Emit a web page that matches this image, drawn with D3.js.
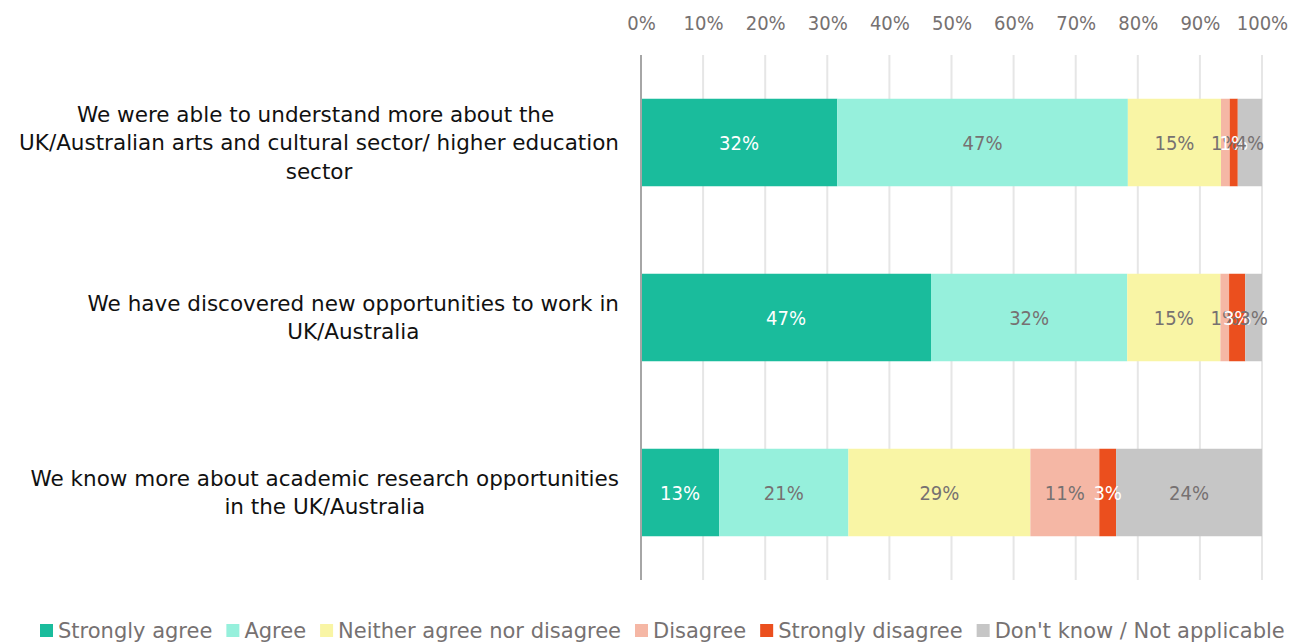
<!DOCTYPE html>
<html>
<head>
<meta charset="utf-8">
<script src="https://cdn.jsdelivr.net/npm/d3@7"></script>
<style>
  html, body { margin: 0; padding: 0; background: #fff; }
  svg { display: block; }
</style>
</head>
<body>
<svg id="chart" width="1307" height="643"></svg>
<script>
// Survey statements (one horizontal bar each)
const categories = [
  ["We were able to understand more about the ", "UK/Australian arts and cultural sector/ higher education", "sector"],
  ["We have discovered new opportunities to work in", "UK/Australia"],
  ["We know more about academic research opportunities", "in the UK/Australia"]
];

// Response categories, in stacking order
const seriesNames = ["Strongly agree", "Agree", "Neither agree nor disagree", "Disagree", "Strongly disagree", "Don't know / Not applicable"];
const seriesColors = ["#1ABC9C", "#96F0DC", "#F9F5A5", "#F5B7A5", "#EB4F1E", "#C6C6C6"];
const labelColors = ["#FFFFFF", "#767171", "#767171", "#767171", "#FFFFFF", "#767171"];

// Share of respondents (%) per series, one entry per statement
const stronglyAgree = [31.6, 46.7, 12.6];
const agree = [46.8, 31.6, 20.8];
const neither = [15.0, 15.0, 29.3];
const disagree = [1.4, 1.4, 11.1];
const stronglyDisagree = [1.3, 2.6, 2.7];
const dontKnow = [3.9, 2.7, 23.5];

const tickValues = [0, 10, 20, 30, 40, 50, 60, 70, 80, 90, 100];

const NARROW = "'DejaVu Sans Condensed', 'DejaVu Sans', sans-serif";
const WIDE = "'DejaVu Sans', sans-serif";

const seriesValues = [stronglyAgree, agree, neither, disagree, stronglyDisagree, dontKnow];
const rows = categories.map((c, i) => {
  const r = { idx: i };
  seriesNames.forEach((s, j) => { r[s] = seriesValues[j][i]; });
  return r;
});

const svg = d3.select("#chart");
const x = d3.scaleLinear().domain([0, 100]).range([641, 1262]);
const y = d3.scaleBand().domain(d3.range(categories.length)).range([55, 580])
  .paddingInner(0.5).paddingOuter(0.25);

// Vertical gridlines
svg.append("g").selectAll("line").data(tickValues.slice(1)).join("line")
  .attr("x1", d => x(d)).attr("x2", d => x(d))
  .attr("y1", 55).attr("y2", 580)
  .attr("stroke", "#E6E6E6").attr("stroke-width", 2);

// Top axis labels
const axis = svg.append("g").attr("transform", "translate(0,30)")
  .call(d3.axisTop(x).tickValues(tickValues).tickFormat(d => d + "%").tickSize(0).tickPadding(0));
axis.select(".domain").remove();
axis.selectAll("text").attr("fill", "#767171").attr("font-size", 20)
  .attr("font-family", NARROW);

// Stacked bars
const stack = d3.stack().keys(seriesNames)(rows);
const groups = svg.append("g").selectAll("g").data(stack).join("g")
  .attr("fill", (d, i) => seriesColors[i]);
groups.selectAll("rect").data(d => d).join("rect")
  .attr("x", d => x(d[0]))
  .attr("width", d => x(d[1]) - x(d[0]))
  .attr("y", d => y(d.data.idx))
  .attr("height", y.bandwidth());

// Value labels
const labelGroups = svg.append("g").selectAll("g").data(stack).join("g")
  .attr("fill", (d, i) => labelColors[i]);
labelGroups.selectAll("text").data(d => d).join("text")
  .attr("x", d => (x(d[0]) + x(d[1])) / 2)
  .attr("y", d => y(d.data.idx) + y.bandwidth() / 2)
  .attr("text-anchor", "middle")
  .attr("dominant-baseline", "central")
  .attr("font-family", NARROW)
  .attr("font-size", 20)
  .text(d => Math.round(d[1] - d[0]) + "%");

// Axis line at 0%
svg.append("line")
  .attr("x1", x(0)).attr("x2", x(0)).attr("y1", 55).attr("y2", 580)
  .attr("stroke", "#A6A6A6").attr("stroke-width", 2);

// Category labels: lines centred within a block whose right edge is at 619
const lineH = 28.5;
categories.forEach((lines, i) => {
  const g = svg.append("g");
  const cy = y(i) + y.bandwidth() / 2;
  const texts = lines.map((ln, k) => g.append("text")
    .attr("y", cy + (k - (lines.length - 1) / 2) * lineH)
    .attr("dominant-baseline", "central")
    .attr("text-anchor", "middle")
    .attr("font-family", WIDE)
    .attr("font-size", 21.5)
    .attr("fill", "#111111")
    .attr("xml:space", "preserve")
    .text(ln));
  const maxW = d3.max(texts, t => t.node().getComputedTextLength());
  texts.forEach(t => t.attr("x", 619 - maxW / 2));
});

// Legend
const legend = svg.append("g").attr("transform", "translate(40,631)");
let lx = 0;
seriesNames.forEach((s, i) => {
  legend.append("rect").attr("x", lx).attr("y", -7).attr("width", 13).attr("height", 13)
    .attr("fill", seriesColors[i]);
  const t = legend.append("text").attr("x", lx + 18).attr("y", 0)
    .attr("dominant-baseline", "central")
    .attr("font-family", WIDE)
    .attr("font-size", 21).attr("fill", "#767171").text(s);
  lx += 18 + t.node().getComputedTextLength() + 14;
});
</script>
</body>
</html>
